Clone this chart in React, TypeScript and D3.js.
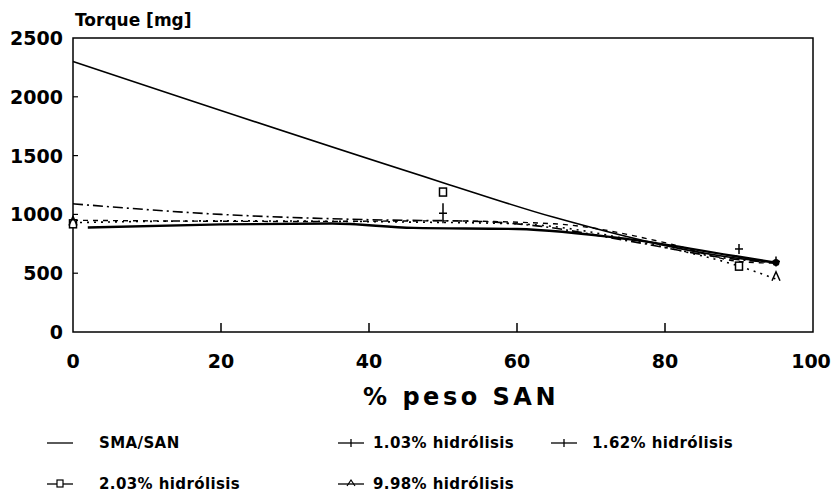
import React from "react";
import * as d3 from "d3";

const xTicks = [0, 20, 40, 60, 80, 100];
const yTicks = [0, 500, 1000, 1500, 2000, 2500];

const smaX = [0, 50, 65, 90, 95];
const smaY = [2300, 1270, 975, 625, 590];
const h103X = [2, 20, 35, 46, 60, 75, 90, 95];
const h103Y = [888, 915, 922, 885, 876, 790, 640, 590];
const h162X = [0, 20, 40, 55, 63, 75, 90, 95];
const h162Y = [1090, 1000, 955, 940, 900, 775, 615, 590];
const h203X = [0, 30, 50, 65, 80, 90, 95];
const h203Y = [950, 940, 945, 920, 760, 600, 585];
const h998X = [0, 20, 45, 60, 80, 90, 95];
const h998Y = [930, 945, 935, 920, 720, 560, 450];

const plusX = [50, 90, 95];
const plusY = [1010, 706, 600];
const squareX = [0, 50, 90];
const squareY = [920, 1190, 560];
const triX = [0, 95];
const triY = [940, 470];

const legendLabels = ["SMA/SAN", "1.03% hidrólisis", "1.62% hidrólisis", "2.03% hidrólisis", "9.98% hidrólisis"];

const W = 833, H = 494;
const L = 73, R = 813, T = 38, B = 332;

export default function App() {
  const x = d3.scaleLinear().domain([0, 100]).range([L, R]);
  const y = d3.scaleLinear().domain([0, 2500]).range([B, T]);
  const line = (xs: number[], ys: number[]) =>
    d3.line<number>().x((_, i) => x(xs[i])).y((_, i) => y(ys[i])).curve(d3.curveMonotoneX)(xs) || "";
  const font = "'DejaVu Sans', Verdana, sans-serif";
  const series = [
    { xs: smaX, ys: smaY, dash: "none", w: 1.6 },
    { xs: h103X, ys: h103Y, dash: "none", w: 2.4 },
    { xs: h162X, ys: h162Y, dash: "10,4,2,4", w: 1.6 },
    { xs: h203X, ys: h203Y, dash: "5,5", w: 1.4 },
    { xs: h998X, ys: h998Y, dash: "2,5", w: 1.6 },
  ];
  const legendPos = [
    { sx: 47, tx: 99, ty: 448 },
    { sx: 338, tx: 373, ty: 448 },
    { sx: 551, tx: 592, ty: 448 },
    { sx: 47, tx: 99, ty: 489 },
    { sx: 338, tx: 373, ty: 489 },
  ];
  return (
    <svg width={W} height={H} style={{ position: "absolute", left: 0, top: 0, background: "#fff" }}>
      <rect x={0} y={0} width={W} height={H} fill="#fff" />
      <rect x={L} y={T} width={R - L} height={B - T} fill="none" stroke="#000" strokeWidth={1.5} />
      {xTicks.slice(1, -1).map((t) => (
        <line key={"xt" + t} x1={x(t)} x2={x(t)} y1={B} y2={B - 9} stroke="#000" strokeWidth={1.5} />
      ))}
      {yTicks.slice(1, -1).map((t) => (
        <line key={"yt" + t} x1={L} x2={L + 5} y1={y(t)} y2={y(t)} stroke="#000" strokeWidth={1.2} />
      ))}
      {xTicks.map((t) => (
        <text key={"xl" + t} x={t === 100 ? x(t) - 2 : x(t)} y={368} textAnchor="middle" fontFamily={font} fontWeight="bold" fontSize={19}>{t}</text>
      ))}
      {yTicks.map((t) => (
        <text key={"yl" + t} x={63} y={y(t) + 7} textAnchor="end" fontFamily={font} fontWeight="bold" fontSize={19}>{t}</text>
      ))}
      <text x={75} y={26} fontFamily={font} fontWeight="bold" fontSize={17}>Torque [mg]</text>
      <text x={461} y={405} textAnchor="middle" fontFamily={font} fontWeight="bold" fontSize={24} letterSpacing={3.5}>% peso SAN</text>
      {series.map((s, i) => (
        <path key={"s" + i} d={line(s.xs, s.ys)} fill="none" stroke="#000" strokeWidth={s.w} strokeDasharray={s.dash} />
      ))}
      {plusX.map((v, i) => (
        <g key={"p" + i} stroke="#000" strokeWidth={1.5}>
          <line x1={x(v) - 4} x2={x(v) + 4} y1={y(plusY[i])} y2={y(plusY[i])} />
          <line x1={x(v)} x2={x(v)} y1={y(plusY[i]) - (i === 0 ? 10 : 5)} y2={y(plusY[i]) + (i === 0 ? 10 : 5)} />
        </g>
      ))}
      {squareX.map((v, i) => (
        <rect key={"q" + i} x={x(v) - 3.5} y={y(squareY[i]) - 4} width={7} height={8} fill="#fff" stroke="#000" strokeWidth={1.5} />
      ))}
      {triX.map((v, i) => (
        <path key={"t" + i} d={`M${x(v) - 4},${y(triY[i]) + 4}L${x(v)},${y(triY[i]) - 5}L${x(v) + 4},${y(triY[i]) + 4}`} fill="none" stroke="#000" strokeWidth={1.5} />
      ))}
      <circle cx={x(95)} cy={y(590)} r={3.5} fill="#000" />
      {legendLabels.map((lab, i) => {
        const p = legendPos[i];
        const cy = p.ty - 5;
        return (
          <g key={"lg" + i}>
            <line x1={p.sx} x2={p.sx + 26} y1={cy} y2={cy} stroke="#000" strokeWidth={1.3} />
            {i === 1 || i === 2 ? (
              <line x1={p.sx + 13} x2={p.sx + 13} y1={cy - 4} y2={cy + 4} stroke="#000" strokeWidth={1.3} />
            ) : null}
            {i === 3 ? (
              <rect x={p.sx + 10} y={cy - 4} width={6} height={7} fill="#fff" stroke="#000" strokeWidth={1.2} />
            ) : null}
            {i === 4 ? (
              <path d={`M${p.sx + 9},${cy + 2}L${p.sx + 13},${cy - 4}L${p.sx + 17},${cy + 2}`} fill="none" stroke="#000" strokeWidth={1.2} />
            ) : null}
            <text x={p.tx} y={p.ty} fontFamily={font} fontWeight="bold" fontSize={15} letterSpacing={0.4}>{lab}</text>
          </g>
        );
      })}
    </svg>
  );
}
